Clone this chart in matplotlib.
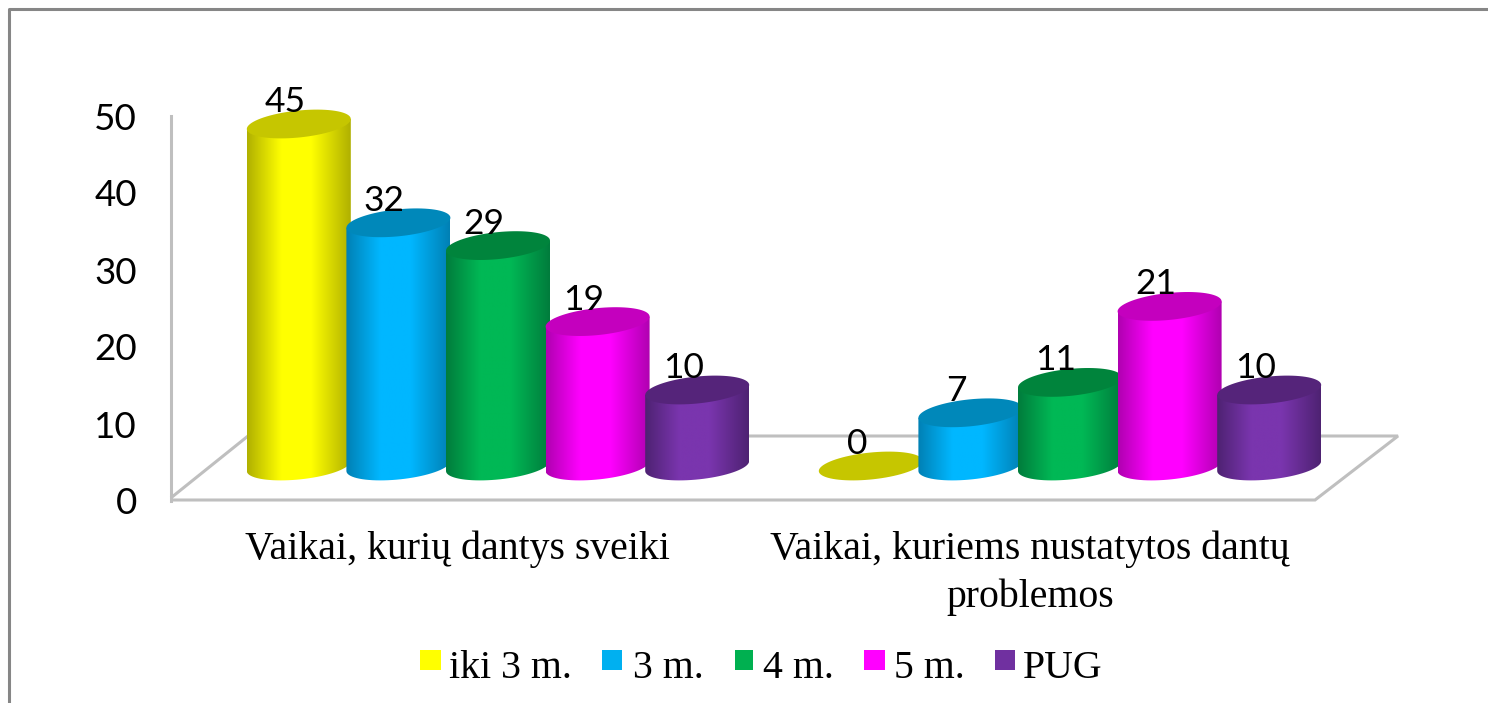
"""
Dental health by age group, 3D cylinder look
"""
import matplotlib
matplotlib.use("Agg")
import matplotlib.pyplot as plt
import matplotlib.colors as mcolors
from matplotlib.patches import PathPatch, Rectangle
from matplotlib.path import Path
import numpy as np

W, H = 1488, 703

CATEGORIES = ["Vaikai, kurių dantys sveiki", "Vaikai, kuriems nustatytos dantų\nproblemos"]
SERIES = ["iki 3 m.", "3 m.", "4 m.", "5 m.", "PUG"]
HEALTHY = [45, 32, 29, 19, 10]
PROBLEMS = [0, 7, 11, 21, 10]
Y_TICKS = [0, 10, 20, 30, 40, 50]

# main colour, edge shade, cap colour
COLORS = ["#FFFF00", "#00B7FF", "#00B855", "#FF00FF", "#7A35AE"]
SWATCH = ["#FFFF00", "#00B0F0", "#00B050", "#FF00FF", "#7030A0"]
EDGES = ["#B0B000", "#0080B4", "#007C3C", "#B000B0", "#4E2272"]
CAPS = ["#C6C600", "#0088BA", "#00843C", "#C400BE", "#55247A"]
GREY = "#BFBFBF"

# pixels per data unit on the bar axes
PX_X = 572.0
PX_Y = 7.6
HALF_W = 52 / PX_X
RY = 13.5 / PX_Y
TILT = 5 / PX_Y
STEP = 99.6 / PX_X

fig = plt.figure(figsize=(W / 100, H / 100), dpi=100, facecolor="white")

# pixel overlay for frame and legend
ov = fig.add_axes([0, 0, 1, 1])
ov.set_xlim(0, W)
ov.set_ylim(H, 0)
ov.axis("off")
ov.plot([9, 9, W], [H, 9, 9], color="#868686", lw=2.2, solid_capstyle="butt")

# floor of the 3D box
ov.plot([172, 1315, 1398, 248, 172], [500, 500, 436, 436, 497], color=GREY, lw=2.2,
        solid_joinstyle="miter", zorder=1)

# bars
ax = fig.add_axes([0, 0, 1, 1])
ax.patch.set_alpha(0)
ax.axis("off")
xlim = (-498 / PX_X, (W - 498) / PX_X)
ylim = (-(H - 466) / PX_Y, 466 / PX_Y)


def ellipse_pts(cx, cy, n=80):
    t = np.linspace(0, 2 * np.pi, n)
    return cx + HALF_W * np.cos(t), cy + RY * np.sin(t) + TILT * np.cos(t)


def shade(colors, positions):
    return mcolors.LinearSegmentedColormap.from_list("s", list(zip(positions, colors)))


def cylinder(cx, val, i):
    grad = np.linspace(0, 1, 256).reshape(1, -1)
    pad = 4
    if val > 0:
        t = np.linspace(np.pi, 2 * np.pi, 40)
        bx = cx + HALF_W * np.cos(t)
        by = RY * np.sin(t) + TILT * np.cos(t)
        tx = cx + HALF_W * np.cos(t - np.pi)
        ty = val + TILT * np.cos(t - np.pi)
        verts = np.column_stack([np.r_[bx, tx], np.r_[by, ty]])
        body = PathPatch(Path(np.vstack([verts, verts[0]]), closed=True), fc="none", ec="none")
        ax.add_patch(body)
        cmap = shade([EDGES[i], COLORS[i], COLORS[i], EDGES[i]], [0, 0.33, 0.62, 1])
        im = ax.imshow(grad, extent=(cx - HALF_W, cx + HALF_W, -pad, val + pad), aspect="auto",
                       cmap=cmap, interpolation="bilinear", zorder=3 + i)
        im.set_clip_path(body)
        body.set_zorder(3 + i)
    ex, ey = ellipse_pts(cx, val)
    ax.fill(ex, ey, color=CAPS[i], lw=0, zorder=3 + i + 0.5)


for g, values in enumerate([HEALTHY, PROBLEMS]):
    for i, val in enumerate(values):
        cx = g + (i - 2) * STEP
        cylinder(cx, val, i)
        ax.annotate(str(val), xy=(cx, val), xytext=(-14 * 0.72, 22 * 0.72), textcoords="offset points",
                    ha="center", va="center", fontsize=25.5, family="Lato", color="black", zorder=20)

for g, label in enumerate(CATEGORIES):
    ax.text((457 if g == 0 else 1030) / PX_X - 498 / PX_X, (466 - 531) / PX_Y, label, ha="center", va="top",
            fontsize=28.6, family="Liberation Serif", color="black", linespacing=1.35)

ax.set_xlim(xlim)
ax.set_ylim(ylim)

# value axis on the back wall
wall = fig.add_axes([171 / W, 1 - 501 / H, 0.0005, 385 / H])
wall.set_ylim(0, 50)
wall.set_yticks(Y_TICKS)
wall.set_xticks([])
for s in ["top", "right", "bottom"]:
    wall.spines[s].set_visible(False)
wall.spines["left"].set_color(GREY)
wall.spines["left"].set_linewidth(2.2)
wall.tick_params(axis="y", length=0, pad=24.5, labelsize=26.5, labelfontfamily="Lato")

# legend
swatch_x = [420, 602, 735, 864, 995]
swatch_w = [21, 20, 18, 21, 20]
text_x = [449, 633, 763, 894, 1023]
for i, name in enumerate(SERIES):
    ov.add_patch(Rectangle((swatch_x[i], 650), swatch_w[i], 20, fc=SWATCH[i], ec="none"))
    ov.text(text_x[i], 678, name, ha="left", va="baseline", fontsize=28.6,
            family="Liberation Serif", color="black")

fig.savefig("out.png", dpi=100, facecolor="white")
plt.close()
